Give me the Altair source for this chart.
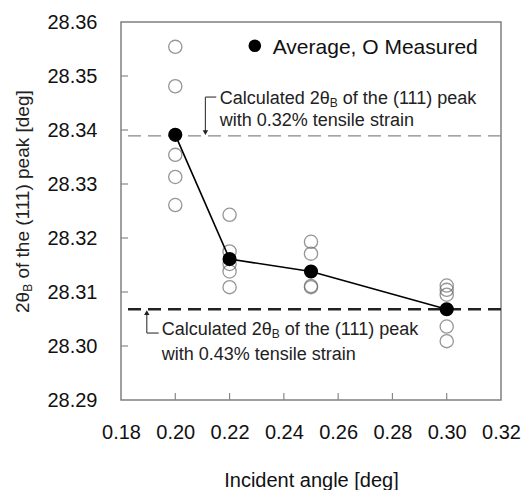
import altair as alt
import pandas as pd

# ---- data ----
avg_angle = [0.20, 0.22, 0.25, 0.30]
avg_peak = [28.3391, 28.3161, 28.3138, 28.3068]

meas_angle = [0.20, 0.20, 0.20, 0.20, 0.20,
              0.22, 0.22, 0.22, 0.22, 0.22,
              0.25, 0.25, 0.25, 0.25,
              0.30, 0.30, 0.30, 0.30, 0.30]
meas_peak = [28.3554, 28.3481, 28.3354, 28.3313, 28.3261,
             28.3243, 28.3175, 28.3152, 28.3138, 28.3109,
             28.3193, 28.3171, 28.3111, 28.3109,
             28.3112, 28.3104, 28.3095, 28.3036, 28.3009]

calc_032 = 28.3389   # 0.32 % tensile strain
calc_043 = 28.3068   # 0.43 % tensile strain

x_ticks = [0.18, 0.20, 0.22, 0.24, 0.26, 0.28, 0.30, 0.32]
y_ticks = [28.29, 28.30, 28.31, 28.32, 28.33, 28.34, 28.35, 28.36]

# annotation anchors (data units)
ann_upper_x, ann_upper_y1, ann_upper_y2 = 0.2164, 28.3457, 28.3417
ann_lower_x, ann_lower_y1, ann_lower_y2 = 0.1950, 28.3030, 28.2983
brk_upper_x, brk_upper_x2, brk_upper_y = 0.2111, 0.2151, 28.3461
brk_lower_x, brk_lower_x2, brk_lower_y = 0.1895, 0.1939, 28.3024
legend_dot_x, legend_dot_y = 0.2293, 28.3556
legend_txt_x, legend_txt_y = 0.2359, 28.3552

FONT = "Liberation Sans"
W, H = 380, 378

xs = alt.Scale(domain=[0.18, 0.32], nice=False, zero=False)
ys = alt.Scale(domain=[28.29, 28.36], nice=False, zero=False)
X = alt.X("x:Q", scale=xs,
          axis=alt.Axis(values=x_ticks, format=".2f", title="Incident angle [deg]",
                        titleFontSize=20, titleFont=FONT, titleFontWeight="normal",
                        titleColor="#111", titleBaseline="middle", titleY=80,
                        labelPadding=22, labelOverlap=False, labelFlush=False))
Y = alt.Y("y:Q", scale=ys,
          axis=alt.Axis(values=y_ticks, format=".2f", title=None, labelPadding=24,
                        labelOverlap=False, labelFlush=False))

def df(xv, yv):
    return pd.DataFrame({"x": xv, "y": yv})

meas = alt.Chart(df(meas_angle, meas_peak)).mark_point(
    shape="circle", size=175, filled=False, stroke="#6a6a6a", strokeWidth=1.3
).encode(x=X, y=Y)

avg_line = alt.Chart(df(avg_angle, avg_peak)).mark_line(
    color="black", strokeWidth=1.6).encode(x=X, y=Y)
avg_pts = alt.Chart(df(avg_angle, avg_peak)).mark_point(
    shape="circle", size=200, filled=True, color="black", opacity=1).encode(x=X, y=Y)

ref_up = alt.Chart(df([0.18], [calc_032])).mark_rule(
    color="#888888", strokeWidth=1.2, strokeDash=[13, 7]).encode(y=Y)
ref_lo = alt.Chart(df([0.18], [calc_043])).mark_rule(
    color="#222222", strokeWidth=2.6, strokeDash=[13, 7]).encode(y=Y)

# inward ticks
xt = alt.Chart(df(x_ticks[1:-1], [28.29] * 6)).mark_rule(
    color="#888888", strokeWidth=1.2).encode(x=X, y=alt.value(H), y2=alt.value(H - 7))
yt = alt.Chart(df([0.18] * 6, y_ticks[1:-1])).mark_rule(
    color="#888888", strokeWidth=1.2).encode(y=Y, x=alt.value(0), x2=alt.value(7))

# brackets with arrows
brk_up_h = alt.Chart(pd.DataFrame({"x": [brk_upper_x], "x2": [brk_upper_x2], "y": [brk_upper_y]})
                     ).mark_rule(color="#444", strokeWidth=1.2).encode(x=X, x2="x2:Q", y=Y)
brk_up_v = alt.Chart(pd.DataFrame({"x": [brk_upper_x], "y": [brk_upper_y], "y2": [calc_032 + 0.0006]})
                     ).mark_rule(color="#444", strokeWidth=1.2).encode(x=X, y=Y, y2="y2:Q")
arr_up = alt.Chart(df([brk_upper_x], [calc_032 + 0.0006])).mark_point(
    shape="triangle-down", size=30, filled=True, color="#222", opacity=1).encode(x=X, y=Y)
brk_lo_h = alt.Chart(pd.DataFrame({"x": [brk_lower_x], "x2": [brk_lower_x2], "y": [brk_lower_y]})
                     ).mark_rule(color="#444", strokeWidth=1.2).encode(x=X, x2="x2:Q", y=Y)
brk_lo_v = alt.Chart(pd.DataFrame({"x": [brk_lower_x], "y": [brk_lower_y], "y2": [calc_043 - 0.0006]})
                     ).mark_rule(color="#444", strokeWidth=1.2).encode(x=X, y=Y, y2="y2:Q")
arr_lo = alt.Chart(df([brk_lower_x], [calc_043 - 0.0006])).mark_point(
    shape="triangle-up", size=30, filled=True, color="#222", opacity=1).encode(x=X, y=Y)

def txt(xv, yv, s, size, dx=0, dy=0, color="#222"):
    return alt.Chart(pd.DataFrame({"x": [xv], "y": [yv], "t": [s]})).mark_text(
        align="left", baseline="middle", font=FONT, fontSize=size, dx=dx, dy=dy, color=color
    ).encode(x=X, y=Y, text="t:N")

AF = 18
w1 = 6.114 * AF
wB = 0.667 * 12
sp = 0.278 * AF
ann = [
    txt(ann_upper_x, ann_upper_y1, "Calculated 2θ", AF),
    txt(ann_upper_x, ann_upper_y1, "B", 12, dx=w1, dy=4),
    txt(ann_upper_x, ann_upper_y1, "of the (111) peak", AF, dx=w1 + wB + sp),
    txt(ann_upper_x, ann_upper_y2, "with 0.32% tensile strain", AF),
    txt(ann_lower_x, ann_lower_y1, "Calculated 2θ", AF),
    txt(ann_lower_x, ann_lower_y1, "B", 12, dx=w1, dy=4),
    txt(ann_lower_x, ann_lower_y1, "of the (111) peak", AF, dx=w1 + wB + sp),
    txt(ann_lower_x, ann_lower_y2, "with 0.43% tensile strain", AF),
]

leg_dot = alt.Chart(df([legend_dot_x], [legend_dot_y])).mark_point(
    shape="circle", size=160, filled=True, color="black", opacity=1).encode(x=X, y=Y)
leg_txt = txt(legend_txt_x, legend_txt_y, "Average, O Measured", 21, color="#111")

# y-axis title with subscript, drawn as rotated text
YF = 19
def ytitle(s, size, dx=0, dy=0):
    return alt.Chart(pd.DataFrame({"t": [s]})).mark_text(
        align="left", baseline="middle", angle=270, font=FONT, fontSize=size,
        dx=dx, dy=dy, color="#222"
    ).encode(x=alt.value(-98), y=alt.value(291), text="t:N")

yt1 = ytitle("2θ", YF)
yt2 = ytitle("B", 12, dx=1.112 * YF, dy=5)
yt3 = ytitle("of the (111) peak [deg]", YF, dx=1.112 * YF + 8 + 0.278 * YF)

chart = alt.layer(
    ref_up, ref_lo, xt, yt, meas, avg_line, avg_pts,
    brk_up_h, brk_up_v, arr_up, brk_lo_h, brk_lo_v, arr_lo,
    *ann, leg_dot, leg_txt, yt1, yt2, yt3
).properties(
    width=W, height=H,
    autosize=alt.AutoSizeParams(type="none"),
    padding={"left": 113, "top": 14, "right": 20, "bottom": 90},
).configure_view(
    stroke="#808080", strokeWidth=1.5
).configure_axis(
    grid=False, domain=False, ticks=False,
    labelFont=FONT, labelFontSize=20, labelColor="#111"
)

chart.save("out.html", embed_options={"renderer": "svg", "actions": False})
